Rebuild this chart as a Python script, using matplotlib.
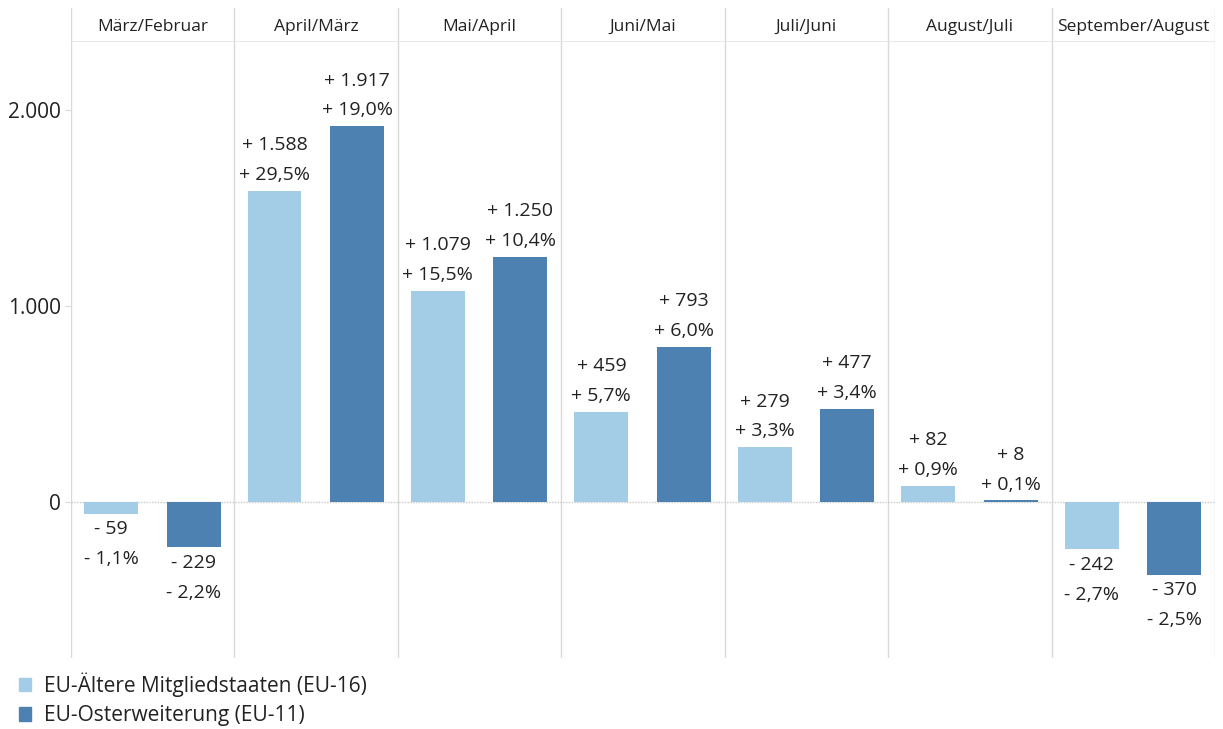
import matplotlib.pyplot as plt
import matplotlib.patches as mpatches
import numpy as np

plt.rcParams['font.family'] = ['Open Sans', 'DejaVu Sans']

# data
periods = ['März/Februar', 'April/März', 'Mai/April', 'Juni/Mai',
           'Juli/Juni', 'August/Juli', 'September/August']
eu16 = [-59, 1588, 1079, 459, 279, 82, -242]
eu11 = [-229, 1917, 1250, 793, 477, 8, -370]
eu16_pct = ['- 1,1%', '+ 29,5%', '+ 15,5%', '+ 5,7%', '+ 3,3%', '+ 0,9%', '- 2,7%']
eu11_pct = ['- 2,2%', '+ 19,0%', '+ 10,4%', '+ 6,0%', '+ 3,4%', '+ 0,1%', '- 2,5%']
series_names = ['EU-Ältere Mitgliedstaaten (EU-16)', 'EU-Osterweiterung (EU-11)']

c_light = '#a3cde6'
c_dark = '#4c81b1'
txt = '#222222'
grid = '#d9d9d9'

fig = plt.figure(figsize=(12.23, 7.29), dpi=100)
ax = fig.add_axes([71/1223, 1-658/729, (1215-71)/1223, (658-42)/729])
hx = fig.add_axes([71/1223, 1-42/729, (1215-71)/1223, (42-8)/729])

n = len(periods)
x = np.arange(n)
w = 0.33

def fmt(v):
    s = '{:,}'.format(abs(v)).replace(',', '.')
    return ('+ ' if v >= 0 else '- ') + s

for vals, pcts, off, col in [(eu16, eu16_pct, 0.245, c_light), (eu11, eu11_pct, 0.75, c_dark)]:
    ax.bar(x + off, vals, width=w, color=col, zorder=3)
    for xi, v, p in zip(x, vals, pcts):
        lab = fmt(v) + '\n' + p
        if v >= 0:
            ax.text(xi + off, v + 35, lab, ha='center', va='bottom', fontsize=14,
                    color=txt, linespacing=1.85)
        else:
            ax.text(xi + off, v - 35, lab, ha='center', va='top', fontsize=14,
                    color=txt, linespacing=1.85)

ax.set_xlim(0, n)
ax.set_ylim(-796, 2347)
ax.axhline(0, color='#c8c8c8', lw=1, ls=(0, (1, 1)), zorder=2)
for i in range(n + 1):
    ax.axvline(i, color=grid, lw=1, zorder=1)
ax.set_xticks([])
ax.set_yticks([0, 1000, 2000])
ax.set_yticklabels(['0', '1.000', '2.000'], fontsize=15, color=txt)
ax.tick_params(axis='y', length=4, color=grid, pad=3)
for s in ax.spines.values():
    s.set_visible(False)

# header row
hx.set_xlim(0, n)
hx.set_ylim(0, 1)
for i, p in enumerate(periods):
    hx.text(i + 0.5, 0.45, p, ha='center', va='center', fontsize=12.5, color=txt)
for i in range(n + 1):
    hx.axvline(i, color=grid, lw=1)
hx.axhline(0, color='#e6e6e6', lw=2)
hx.set_xticks([])
hx.set_yticks([])
for s in hx.spines.values():
    s.set_visible(False)

handles = [mpatches.Patch(color=c_light, label=series_names[0]),
           mpatches.Patch(color=c_dark, label=series_names[1])]
fig.legend(handles=handles, loc='lower left', bbox_to_anchor=(0.0, -0.022),
           frameon=False, fontsize=15, handlelength=0.6, handleheight=0.6,
           handletextpad=0.6, labelspacing=0.42, labelcolor=txt)

fig.savefig('out.png', dpi=100)
